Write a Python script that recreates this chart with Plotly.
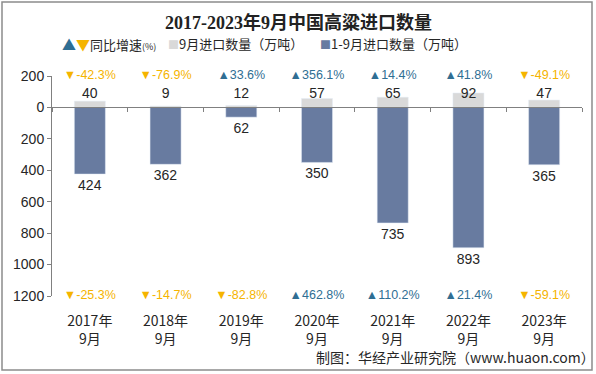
import plotly.graph_objects as go

# ---- data ----
categories = ["2017年<br>9月", "2018年<br>9月", "2019年<br>9月", "2020年<br>9月",
              "2021年<br>9月", "2022年<br>9月", "2023年<br>9月"]
sep_volume = [40, 9, 12, 57, 65, 92, 47]            # 9月进口数量（万吨）
ytd_volume = [424, 362, 62, 350, 735, 893, 365]     # 1-9月进口数量（万吨）
sep_yoy = [-42.3, -76.9, 33.6, 356.1, 14.4, 41.8, -49.1]
ytd_yoy = [-25.3, -14.7, -82.8, 462.8, 110.2, 21.4, -59.1]
y_tick_vals = [200, 0, -200, -400, -600, -800, -1000, -1200]
y_tick_text = ["200", "0", "200", "400", "600", "800", "1000", "1200"]

# ---- style ----
W, H = 596, 374
L, R, T, B = 52, 582, 76, 296
GRAY = "#d9d9d9"
BLUE = "#687ba0"
UP = "#2f6e93"
DOWN = "#f5b400"
TXT = "#262626"
FONT = "Liberation Sans, Noto Sans CJK SC, sans-serif"
CJK = "Noto Sans CJK SC, Liberation Sans, sans-serif"


def px_x(x):
    return (x - L) / (R - L)


def px_y(y):
    return (B - y) / (B - T)


def pct_text(v):
    if v >= 0:
        return f"▲{v:.1f}%", UP
    return f"▼{v:.1f}%", DOWN


fig = go.Figure()
fig.add_trace(go.Bar(x=categories, y=sep_volume, marker_color=GRAY, width=0.41,
                     showlegend=False, hoverinfo="skip"))
fig.add_trace(go.Bar(x=categories, y=[-v for v in ytd_volume], marker_color=BLUE, width=0.41,
                     text=[str(v) for v in ytd_volume], textposition="outside",
                     textfont=dict(size=14, color=TXT, family=FONT), cliponaxis=False,
                     showlegend=False, hoverinfo="skip"))
# 9月 value labels on a fixed row above the zero line
LABEL_ROW = 84
fig.add_trace(go.Scatter(x=categories, y=[LABEL_ROW] * len(categories), mode="text",
                         text=[str(v) for v in sep_volume],
                         textfont=dict(size=14, color=TXT, family=FONT),
                         showlegend=False, hoverinfo="skip", cliponaxis=False))
# percentage rows
for vals, row in ((sep_yoy, 200), (ytd_yoy, -1200)):
    texts, colors = zip(*[pct_text(v) for v in vals])
    fig.add_trace(go.Scatter(x=categories, y=[row] * len(categories), mode="text",
                             text=list(texts), textfont=dict(size=12.5, color=list(colors), family=FONT),
                             showlegend=False, hoverinfo="skip", cliponaxis=False))
# invisible trace for the zero-line axis ticks
fig.add_trace(go.Scatter(x=categories, y=[0] * len(categories), xaxis="x2", mode="markers",
                         marker=dict(opacity=0), showlegend=False, hoverinfo="skip"))

fig.update_layout(
    width=W, height=H,
    margin=dict(l=L, r=W - R, t=T, b=H - B, autoexpand=False),
    paper_bgcolor="white", plot_bgcolor="white",
    barmode="relative",
    xaxis=dict(showline=False, showgrid=False, zeroline=False, ticks="outside", ticklen=12,
               tickcolor="rgba(0,0,0,0)", tickfont=dict(size=14, color=TXT, family=CJK),
               range=[-0.5, 6.5], automargin=False),
    xaxis2=dict(overlaying="x", matches="x", anchor="free", position=1200 / 1400,
                showline=True, linecolor="#808080", linewidth=1, ticks="outside",
                tickson="boundaries", ticklen=4, tickcolor="#808080", showticklabels=False,
                showgrid=False, zeroline=False, automargin=False),
    yaxis=dict(range=[-1200, 200], tickvals=y_tick_vals, ticktext=y_tick_text,
               showline=True, linecolor="#808080", linewidth=1, ticks="outside", ticklen=4,
               tickcolor="#808080", showgrid=False, zeroline=False, automargin=False,
               tickfont=dict(size=14, color=TXT, family=FONT)),
    font=dict(family=CJK),
)

annotations = [
    dict(text="<b>2017-2023年9月中国高粱进口数量</b>", x=px_x(298), y=px_y(22),
         font=dict(size=18, color="#222222", family="Liberation Serif, Noto Sans CJK SC, serif")),
    dict(text=f"<span style='color:{UP};font-size:14px'>▲</span><span style='color:{DOWN};font-size:14px'>▼</span>同比增速<span style='font-size:9px'>(%)</span>",
         x=px_x(60), y=px_y(44), xanchor="left", font=dict(size=13, color=TXT, family=CJK)),
    dict(text=f"<span style='color:{GRAY};font-size:11px'>■</span>9月进口数量（万吨）",
         x=px_x(166), y=px_y(44), xanchor="left", font=dict(size=13, color=TXT, family=CJK)),
    dict(text=f"<span style='color:{BLUE};font-size:11px'>■</span>1-9月进口数量（万吨）",
         x=px_x(318), y=px_y(44), xanchor="left", font=dict(size=13, color=TXT, family=CJK)),
    dict(text="制图：华经产业研究院（www.huaon.com）", x=px_x(314), y=px_y(357), xanchor="left",
         font=dict(size=14, color=TXT, family=CJK)),
]
for a in annotations:
    a.update(xref="paper", yref="paper", showarrow=False, yanchor="middle")
    a.setdefault("xanchor", "center")
fig.update_layout(annotations=annotations)

fig.add_shape(type="rect", xref="paper", yref="paper",
              x0=px_x(2), x1=px_x(592), y0=px_y(370), y1=px_y(2),
              line=dict(color="#8c8c8c", width=1.5), fillcolor="rgba(0,0,0,0)", layer="above")

fig.write_html("out.html", config={"displayModeBar": False},
               post_script="document.body.style.margin='0';document.body.style.padding='0';")
